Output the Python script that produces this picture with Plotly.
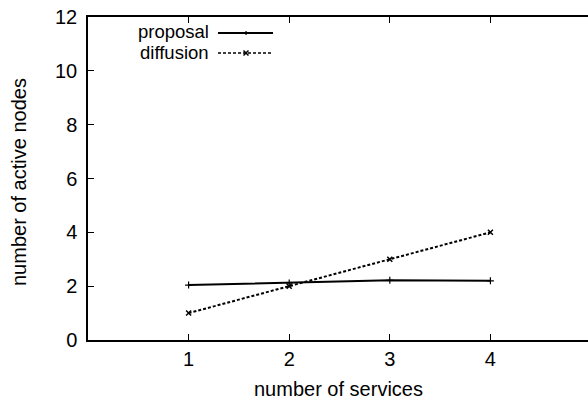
import plotly.graph_objects as go

services = [1, 2, 3, 4]
proposal = [2.04, 2.12, 2.22, 2.2]
diffusion = [1.0, 2.0, 3.0, 4.0]
x_ticks = [1, 2, 3, 4]
y_ticks = [0, 2, 4, 6, 8, 10, 12]

FONT = "Liberation Sans, Arial, sans-serif"

fig = go.Figure()
fig.add_trace(go.Scatter(x=services, y=proposal, mode="lines+markers", name="proposal",
                         line=dict(color="black", width=2),
                         marker=dict(symbol="cross-thin", size=5, color="black",
                                     line=dict(color="black", width=1.2))))
fig.add_trace(go.Scatter(x=services, y=diffusion, mode="lines+markers", name="diffusion",
                         line=dict(color="black", width=2, dash="3px,2px"),
                         marker=dict(symbol="x-thin", size=5, color="black",
                                     line=dict(color="black", width=1.5))))

W, H = 588, 403
L, R, T, B = 88, 0, 17, 63
pw, ph = W - L - R, H - T - B

def px(x):
    return (x - L) / pw

def py(y):
    return 1 - (y - T) / ph

shapes = []
annotations = []
legend_items = [("proposal", 32, "solid", "plus"), ("diffusion", 52, "dash", "x")]
for name, yy, dash, mk in legend_items:
    annotations.append(dict(x=px(211), y=py(yy), xref="paper", yref="paper", text=name,
                            showarrow=False, xanchor="right", yanchor="middle",
                            font=dict(family=FONT, size=18.5, color="black")))
    ly = yy + 1
    shapes.append(dict(type="line", xref="paper", yref="paper", x0=px(218), x1=px(273),
                       y0=py(ly), y1=py(ly),
                       line=dict(color="black", width=2 if dash == "solid" else 1.5,
                                 dash="solid" if dash == "solid" else "3px,2px")))
    cx, cy = 246, ly
    if mk == "plus":
        shapes.append(dict(type="line", xref="paper", yref="paper", x0=px(cx), x1=px(cx),
                           y0=py(cy - 2), y1=py(cy + 2), line=dict(color="black", width=1.2)))
    else:
        shapes.append(dict(type="line", xref="paper", yref="paper", x0=px(cx - 2.5), x1=px(cx + 2.5),
                           y0=py(cy - 2.5), y1=py(cy + 2.5), line=dict(color="black", width=1.5)))
        shapes.append(dict(type="line", xref="paper", yref="paper", x0=px(cx - 2.5), x1=px(cx + 2.5),
                           y0=py(cy + 2.5), y1=py(cy - 2.5), line=dict(color="black", width=1.5)))

annotations.append(dict(x=px(338), y=py(389), xref="paper", yref="paper", text="number of services",
                        showarrow=False, xanchor="center", yanchor="middle",
                        font=dict(family=FONT, size=20, color="black")))
annotations.append(dict(x=px(19), y=py(182), xref="paper", yref="paper", text="number of active nodes",
                        showarrow=False, xanchor="center", yanchor="middle", textangle=-90,
                        font=dict(family=FONT, size=20, color="black")))

fig.update_layout(
    width=W, height=H,
    margin=dict(l=L, r=R, t=T, b=B),
    paper_bgcolor="white", plot_bgcolor="white",
    showlegend=False,
    font=dict(family=FONT, color="black"),
    shapes=shapes, annotations=annotations,
    xaxis=dict(range=[0, 4.97], tickvals=x_ticks, ticktext=[str(v) for v in x_ticks],
               showgrid=False, zeroline=False, showline=True, linecolor="black", linewidth=1.5,
               mirror="allticks", ticks="inside", ticklen=6, tickcolor="black", tickwidth=1,
               tickfont=dict(size=20, family=FONT)),
    yaxis=dict(range=[0, 12], tickvals=y_ticks, ticktext=[str(v) for v in y_ticks],
               showgrid=False, zeroline=False, showline=True, linecolor="black", linewidth=1.5,
               ticks="inside", ticklen=6, tickcolor="black", tickwidth=1, ticklabelstandoff=5,
               tickfont=dict(size=20, family=FONT)),
)

fig.write_html("out.html")
